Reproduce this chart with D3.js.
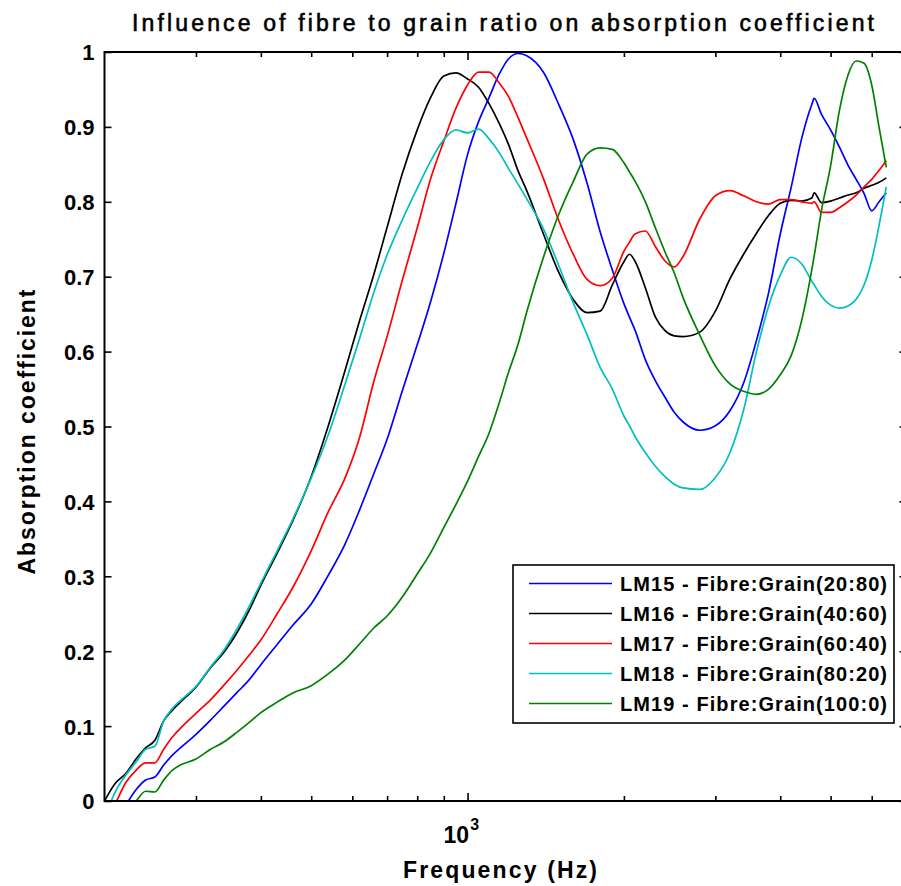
<!DOCTYPE html>
<html>
<head>
<meta charset="utf-8">
<script src="https://cdn.jsdelivr.net/npm/d3@7"></script>
<style>
  body { margin: 0; background: #fff; }
  svg text { font-family: "Liberation Sans", Arial, Helvetica, sans-serif; fill: #000; }
</style>
</head>
<body>
<svg id="chart" width="901" height="886"></svg>
<script>
// values (frequency in Hz, absorption coefficient)
var freqs = [200, 210, 220, 230, 240, 250, 260, 270, 280, 300,
	320, 340, 360, 380, 400, 430, 460, 500, 540, 580,
	620, 660, 700, 750, 800, 850, 900, 950, 1000, 1050,
	1100, 1150, 1200, 1250, 1300, 1400, 1500, 1600, 1700, 1800,
	1900, 2000, 2050, 2100, 2200, 2300, 2400, 2500, 2600, 2800,
	3000, 3200, 3400, 3600, 3800, 4000, 4200, 4400, 4600, 4650,
	4800, 5000, 5200, 5400, 5600, 5800, 6000, 6200, 6400];

var lm15 = [-0.05, -0.027, -0.005, 0.015, 0.028, 0.032, 0.048, 0.061, 0.071, 0.089,
	0.108, 0.127, 0.145, 0.162, 0.182, 0.209, 0.234, 0.263, 0.302, 0.342,
	0.389, 0.437, 0.483, 0.549, 0.609, 0.668, 0.731, 0.798, 0.863, 0.907,
	0.939, 0.970, 0.991, 0.998, 0.995, 0.973, 0.929, 0.882, 0.824, 0.760,
	0.709, 0.664, 0.646, 0.629, 0.589, 0.561, 0.539, 0.519, 0.506, 0.495,
	0.501, 0.521, 0.558, 0.615, 0.679, 0.757, 0.820, 0.885, 0.930, 0.938,
	0.917, 0.896, 0.873, 0.849, 0.830, 0.811, 0.788, 0.800, 0.812];

var lm16 = [0.0, 0.024, 0.037, 0.056, 0.071, 0.081, 0.107, 0.121, 0.132, 0.152,
	0.178, 0.199, 0.225, 0.255, 0.288, 0.331, 0.373, 0.433, 0.502, 0.573,
	0.642, 0.703, 0.766, 0.839, 0.896, 0.940, 0.968, 0.972, 0.964, 0.953,
	0.931, 0.905, 0.876, 0.842, 0.815, 0.757, 0.705, 0.669, 0.652, 0.654,
	0.689, 0.720, 0.730, 0.721, 0.685, 0.646, 0.628, 0.621, 0.620, 0.626,
	0.654, 0.697, 0.730, 0.758, 0.782, 0.798, 0.802, 0.801, 0.805, 0.812,
	0.799, 0.801, 0.805, 0.809, 0.812, 0.818, 0.822, 0.826, 0.832];

var lm17 = [-0.03, -0.003, 0.025, 0.041, 0.051, 0.051, 0.069, 0.085, 0.097, 0.117,
	0.135, 0.155, 0.175, 0.195, 0.215, 0.250, 0.284, 0.334, 0.387, 0.430,
	0.486, 0.560, 0.620, 0.697, 0.765, 0.832, 0.881, 0.925, 0.956, 0.973,
	0.973, 0.959, 0.940, 0.913, 0.885, 0.831, 0.774, 0.729, 0.696, 0.688,
	0.698, 0.734, 0.746, 0.757, 0.761, 0.740, 0.721, 0.713, 0.727, 0.777,
	0.808, 0.815, 0.808, 0.800, 0.797, 0.803, 0.803, 0.800, 0.798, 0.800,
	0.786, 0.786, 0.792, 0.800, 0.809, 0.820, 0.830, 0.842, 0.855];

var lm18 = [-0.023, 0.013, 0.035, 0.052, 0.069, 0.073, 0.107, 0.123, 0.134, 0.153,
	0.179, 0.202, 0.230, 0.260, 0.291, 0.334, 0.375, 0.431, 0.490, 0.555,
	0.618, 0.679, 0.729, 0.777, 0.818, 0.855, 0.883, 0.896, 0.892, 0.897,
	0.884, 0.866, 0.844, 0.824, 0.804, 0.764, 0.714, 0.664, 0.622, 0.579,
	0.550, 0.514, 0.501, 0.487, 0.465, 0.447, 0.433, 0.423, 0.418, 0.416,
	0.432, 0.465, 0.522, 0.600, 0.661, 0.702, 0.726, 0.717, 0.694, 0.689,
	0.674, 0.662, 0.658, 0.661, 0.670, 0.689, 0.722, 0.769, 0.820];

var lm19 = [-0.045, -0.028, -0.013, 0.0, 0.013, 0.012, 0.028, 0.041, 0.048, 0.056,
	0.069, 0.079, 0.092, 0.105, 0.118, 0.132, 0.144, 0.154, 0.170, 0.188,
	0.210, 0.231, 0.247, 0.273, 0.303, 0.332, 0.365, 0.396, 0.427, 0.460,
	0.491, 0.531, 0.573, 0.609, 0.653, 0.726, 0.784, 0.828, 0.864, 0.872,
	0.870, 0.852, 0.840, 0.828, 0.800, 0.765, 0.733, 0.705, 0.672, 0.622,
	0.581, 0.557, 0.547, 0.543, 0.550, 0.569, 0.595, 0.642, 0.709, 0.728,
	0.788, 0.848, 0.922, 0.969, 0.988, 0.985, 0.956, 0.899, 0.846];

var seriesNames = [
	"LM15 - Fibre:Grain(20:80)",
	"LM16 - Fibre:Grain(40:60)",
	"LM17 - Fibre:Grain(60:40)",
	"LM18 - Fibre:Grain(80:20)",
	"LM19 - Fibre:Grain(100:0)",
];
var seriesColors = ["#0000ff", "#000000", "#ff0000", "#00bfbf", "#008000"];

var yTicks = [0, 0.1, 0.2, 0.3, 0.4, 0.5, 0.6, 0.7, 0.8, 0.9, 1];
var yTickLabels = ["0", "0.1", "0.2", "0.3", "0.4", "0.5", "0.6", "0.7", "0.8", "0.9", "1"];
var xMinorTicks = [300, 400, 500, 600, 700, 800, 900, 2000, 3000, 4000, 5000, 6000];
var xMajorTicks = [1000];

// axes box (right side runs just past the picture, like the original)
var boxLeft = 104.5, boxRight = 906.5, boxTop = 52, boxBottom = 801;
var svg = d3.select("#chart");

var x = d3.scaleLog().domain([200, 7000]).range([boxLeft, boxRight]);
var y = d3.scaleLinear().domain([0, 1]).range([boxBottom, boxTop]);

svg.append("rect").attr("width", 901).attr("height", 886).attr("fill", "#fff");

svg.append("clipPath").attr("id", "plotClip")
	.append("rect")
	.attr("x", boxLeft).attr("y", boxTop)
	.attr("width", boxRight - boxLeft).attr("height", boxBottom - boxTop);

// curves
var series = [lm15, lm16, lm17, lm18, lm19];
var line = d3.line()
	.x(function (d, i) { return x(freqs[i]); })
	.y(function (d) { return y(d); })
	.curve(d3.curveMonotoneX);

svg.append("g")
	.attr("clip-path", "url(#plotClip)")
	.selectAll("path")
	.data(series)
	.join("path")
	.attr("d", line)
	.attr("fill", "none")
	.attr("stroke", function (d, i) { return seriesColors[i]; })
	.attr("stroke-width", 1.7)
	.attr("stroke-linejoin", "round");

// ticks, all pointing inwards
function cleanAxis(g) {
	g.select(".domain").remove();
	g.selectAll("line").attr("stroke", "#000").attr("stroke-width", 1.6);
	g.attr("font-family", null).attr("font-size", null);
}

svg.append("g").attr("transform", "translate(0," + boxBottom + ")")
	.call(d3.axisBottom(x).tickValues(xMinorTicks).tickSizeInner(-5).tickSizeOuter(0).tickFormat(""))
	.call(cleanAxis);
svg.append("g").attr("transform", "translate(0," + boxBottom + ")")
	.call(d3.axisBottom(x).tickValues(xMajorTicks).tickSizeInner(-8).tickSizeOuter(0).tickFormat(""))
	.call(cleanAxis);
svg.append("g").attr("transform", "translate(0," + boxTop + ")")
	.call(d3.axisTop(x).tickValues(xMinorTicks).tickSizeInner(-5).tickSizeOuter(0).tickFormat(""))
	.call(cleanAxis);
svg.append("g").attr("transform", "translate(0," + boxTop + ")")
	.call(d3.axisTop(x).tickValues(xMajorTicks).tickSizeInner(-8).tickSizeOuter(0).tickFormat(""))
	.call(cleanAxis);

var yAxis = svg.append("g").attr("transform", "translate(" + boxLeft + ",0)")
	.call(d3.axisLeft(y).tickValues(yTicks).tickSizeInner(-7).tickSizeOuter(0).tickPadding(10)
		.tickFormat(function (d, i) { return yTickLabels[i]; }))
	.call(cleanAxis);
yAxis.selectAll("text")
	.attr("font-size", 22)
	.attr("font-weight", "bold")
	.attr("dy", "0.36em");

svg.append("g").attr("transform", "translate(" + boxRight + ",0)")
	.call(d3.axisRight(y).tickValues(yTicks).tickSizeInner(-7).tickSizeOuter(0).tickFormat(""))
	.call(cleanAxis);

// box
svg.append("rect")
	.attr("x", boxLeft).attr("y", boxTop)
	.attr("width", boxRight - boxLeft).attr("height", boxBottom - boxTop)
	.attr("fill", "none").attr("stroke", "#000").attr("stroke-width", 2);

// 10^3 label under the major tick
var xl = svg.append("text")
	.attr("x", x(1000) - 24)
	.attr("y", 843)
	.attr("font-size", 23)
	.attr("font-weight", "bold");
xl.append("tspan").text("10");
xl.append("tspan").attr("dy", -13).attr("dx", 1).attr("font-size", 16).text("3");

// titles
svg.append("text")
	.attr("x", 503).attr("y", 31)
	.attr("text-anchor", "middle")
	.attr("font-size", 23)
	.attr("stroke", "#000")
	.attr("stroke-width", 0.6)
	.attr("textLength", 742)
	.attr("lengthAdjust", "spacing")
	.text("Influence of fibre to grain ratio on absorption coefficient");

svg.append("text")
	.attr("x", 500).attr("y", 878)
	.attr("text-anchor", "middle")
	.attr("font-size", 23)
	.attr("font-weight", "bold")
	.attr("textLength", 194)
	.attr("lengthAdjust", "spacing")
	.text("Frequency (Hz)");

svg.append("text")
	.attr("transform", "translate(35,432) rotate(-90)")
	.attr("text-anchor", "middle")
	.attr("font-size", 23)
	.attr("font-weight", "bold")
	.attr("textLength", 285)
	.attr("lengthAdjust", "spacing")
	.text("Absorption coefficient");

// legend
var legend = svg.append("g");
legend.append("rect")
	.attr("x", 513).attr("y", 565)
	.attr("width", 381).attr("height", 158)
	.attr("fill", "#fff").attr("stroke", "#000").attr("stroke-width", 1.6);

var rows = legend.selectAll("g.row")
	.data(seriesNames)
	.join("g")
	.attr("class", "row")
	.attr("transform", function (d, i) { return "translate(0," + (583.5 + i * 30) + ")"; });

rows.append("line")
	.attr("x1", 529).attr("x2", 612)
	.attr("stroke", function (d, i) { return seriesColors[i]; })
	.attr("stroke-width", 1.7);

rows.append("text")
	.attr("x", 620)
	.attr("dy", "0.36em")
	.attr("font-size", 20)
	.attr("font-weight", "bold")
	.attr("textLength", 267)
	.attr("lengthAdjust", "spacing")
	.text(function (d) { return d; });
</script>
</body>
</html>
